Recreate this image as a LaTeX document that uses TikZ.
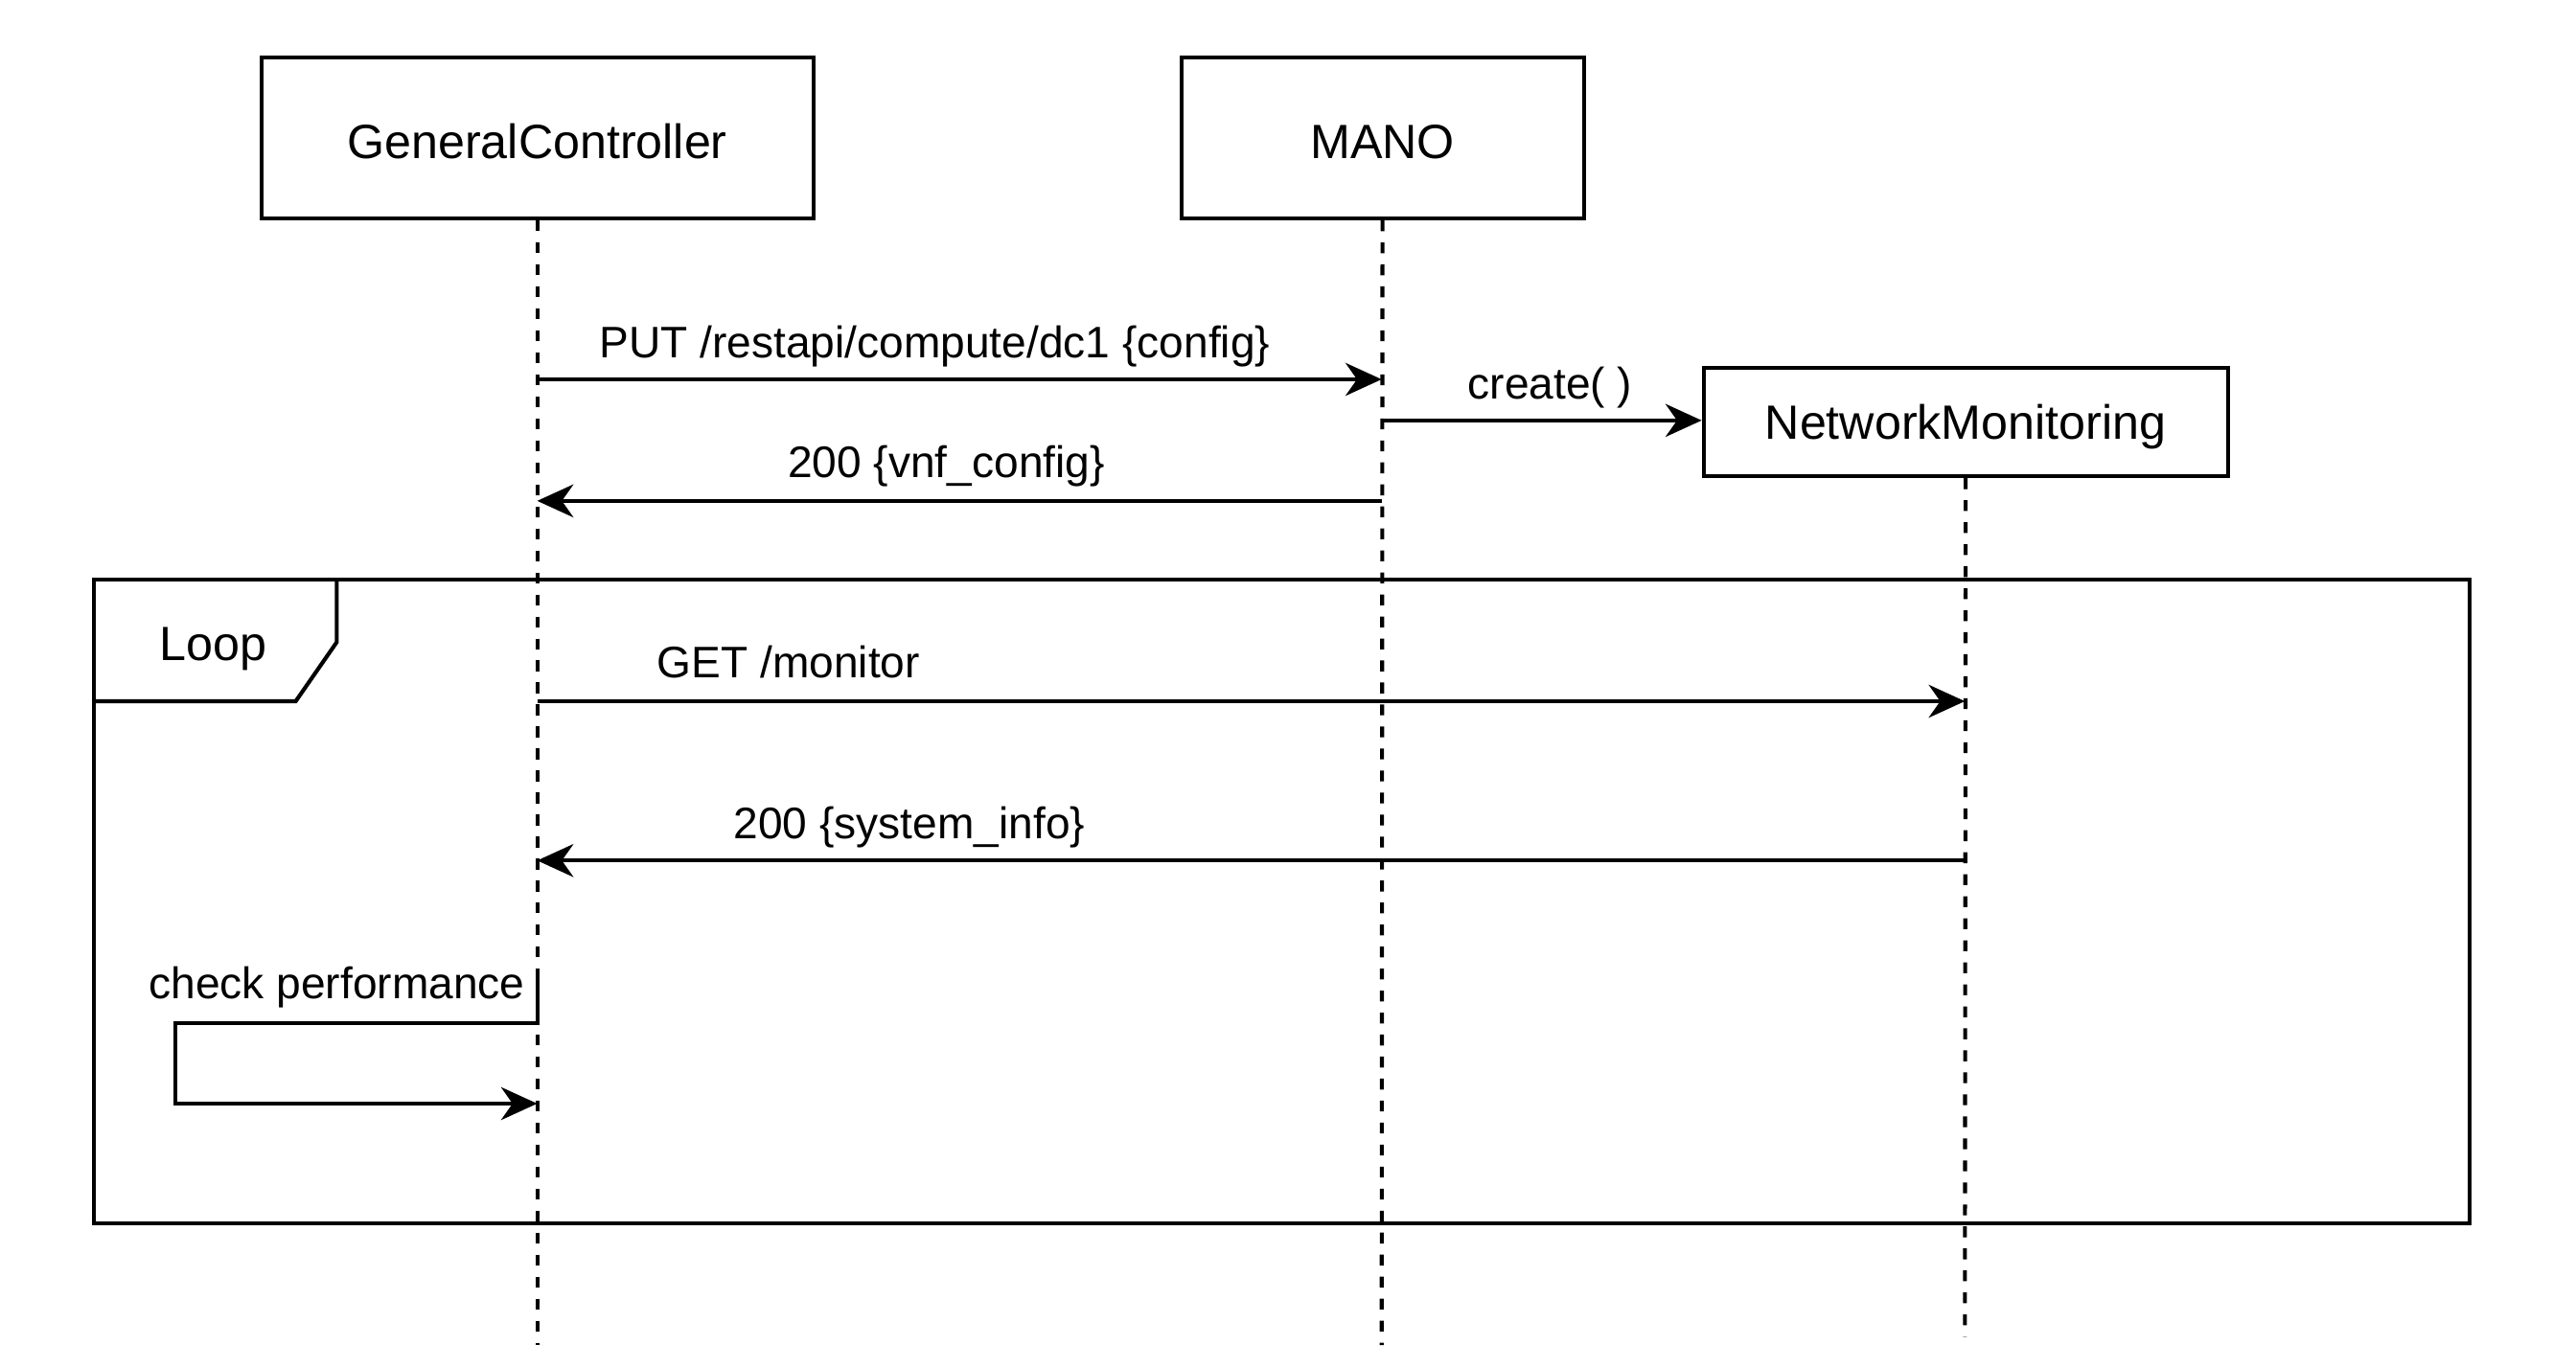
\documentclass[tikz,border=0pt]{standalone}
\usepackage{fontspec}
\setmainfont{Liberation Sans}
\usetikzlibrary{arrows.meta}
\begin{document}
\begin{tikzpicture}[x=0.5pt,y=-0.5pt,
  line width=1.2pt,
  actor/.style={draw,line width=1.2pt,inner sep=0pt,font=\fontsize{14.65pt}{16pt}\selectfont,text height=10.5pt,text depth=0pt},
  msgtext/.style={inner sep=0pt,anchor=base,font=\fontsize{13.45pt}{15pt}\selectfont},
  looptext/.style={inner sep=0pt,anchor=base,font=\fontsize{14.65pt}{16pt}\selectfont},
  lifeline/.style={line width=1.2pt,dash pattern=on 3.3pt off 3.4pt},
  msg/.style={line width=1.2pt,-{Stealth[length=11pt,width=10pt,inset=3.5pt]}},
  msgplain/.style={line width=1.2pt}
]
\useasboundingbox (0,0) rectangle (1568,833);
\fill[white] (0,0) rectangle (1568,833);

% actors
\node[actor,text height=12.5pt,minimum width=168pt,minimum height=49pt] (gc) at (327,84) {GeneralController};
\node[actor,text height=12.5pt,minimum width=122.5pt,minimum height=49pt] (mano) at (841.5,84) {MANO};
\node[actor,minimum width=159.5pt,minimum height=33pt] (nm) at (1196.5,257) {NetworkMonitoring};

% lifeline ends
\coordinate (gcend) at (327,819);
\coordinate (manoend) at (841,819);
\coordinate (nmend) at (1196,814);
\draw[lifeline] (gc.south) -- (gcend);
\draw[lifeline] (mano.south) -- (manoend);
\draw[lifeline] (nm.south) -- (nmend);

% loop frame
\coordinate (lf1) at (57,353);
\coordinate (lf2) at (1503,745);
\draw[msgplain] (lf1) rectangle (lf2);
\coordinate (tab1) at (57,427);
\coordinate (tab2) at (180,427);
\coordinate (tab3) at (205,391);
\coordinate (tab4) at (205,353);
\draw[msgplain] (tab1) -- (tab2) -- (tab3) -- (tab4);
\node[looptext] (looplbl) at (130,402) {Loop};

% message end points
\coordinate (m1s) at (327,231);
\coordinate (m1e) at (841,231);
\coordinate (m2s) at (841,256);
\coordinate (m3s) at (841,305);
\coordinate (m3e) at (327,305);
\coordinate (m4s) at (327,427);
\coordinate (m4e) at (1196,427);
\coordinate (m5s) at (1196,524);
\coordinate (m5e) at (327,524);
\coordinate (s1) at (327,592);
\coordinate (s2) at (327,623);
\coordinate (s3) at (107,623);
\coordinate (s4) at (107,672);
\coordinate (s5) at (327,672);

\draw[msg] (m1s) -- (m1e);
\draw[msg] (m2s) -- (nm.west |- m2s);
\draw[msg] (m3s) -- (m3e);
\draw[msg] (m4s) -- (m4e);
\draw[msg] (m5s) -- (m5e);
\draw[msg] (s1) -- (s2) -- (s3) -- (s4) -- (s5);

% labels
\node[msgtext] (l1) at (569,218) {PUT /restapi/compute/dc1 \{config\}};
\node[msgtext] (l2) at (943.5,243) {create( )};
\node[msgtext] (l3) at (576,291) {200 \{vnf\_config\}};
\node[msgtext] (l4) at (480,413) {GET /monitor};
\node[msgtext] (l5) at (553.5,511) {200 \{system\_info\}};
\node[msgtext] (l6) at (205,608) {check performance};
\end{tikzpicture}
\end{document}
